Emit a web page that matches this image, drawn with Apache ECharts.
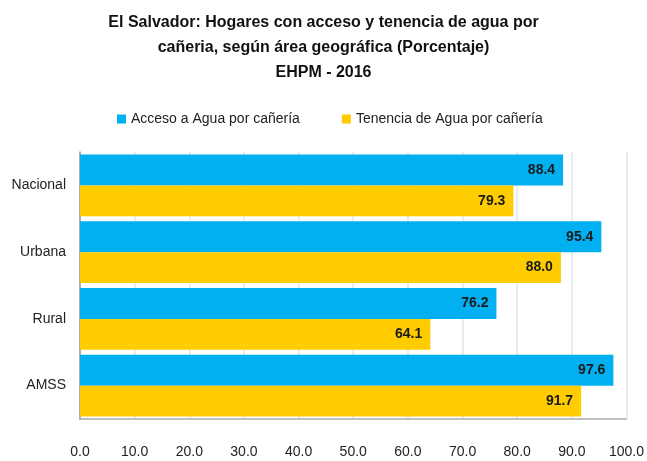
<!DOCTYPE html>
<html>
<head>
<meta charset="utf-8">
<script src="https://cdn.jsdelivr.net/npm/echarts@6/dist/echarts.min.js"></script>
<style>html,body{margin:0;padding:0;background:#fff}#c{width:647px;height:461px}</style>
</head>
<body>
<div id="c"></div>
<script>
const categories = ["Nacional", "Urbana", "Rural", "AMSS"];
const acceso = [88.4, 95.4, 76.2, 97.6];
const tenencia = [79.3, 88.0, 64.1, 91.7];
const seriesNames = ["Acceso a Agua por cañería", "Tenencia de Agua por cañería"];
const titleText = "El Salvador: Hogares con acceso y tenencia de agua por\ncañeria, según área geográfica (Porcentaje)\nEHPM - 2016";

const FONT = "'Liberation Sans Narrow', 'Arial Narrow', 'Liberation Sans', Arial, sans-serif";
const chart = echarts.init(document.getElementById('c'), null, {renderer: 'canvas'});
const labelOpt = {
  show: true, position: 'insideRight', color: '#1a1a1a', fontFamily: FONT,
  fontSize: 14, fontWeight: 'bold', distance: 8,
  formatter: p => p.value.toFixed(1)
};
chart.setOption({
  animation: false,
  backgroundColor: '#fff',
  title: {
    text: titleText, left: 'center', top: 5,
    textStyle: {fontFamily: FONT, fontSize: 16, fontWeight: 'bold', color: '#111', lineHeight: 25}
  },
  legend: {
    top: 107, left: 112, itemGap: 42, itemWidth: 9, itemHeight: 9, icon: 'rect',
    textStyle: {fontFamily: FONT, fontSize: 14, color: '#222'},
    data: seriesNames
  },
  grid: {left: 80, right: 19, top: 152, bottom: 42, containLabel: false},
  xAxis: {
    type: 'value', min: 0, max: 100, interval: 10,
    axisLine: {show: true, lineStyle: {color: '#aaa', width: 1.5}},
    axisTick: {show: false},
    axisLabel: {margin: 26, fontFamily: FONT, fontSize: 14, color: '#222', formatter: v => v.toFixed(1)},
    splitLine: {show: true, lineStyle: {color: '#e4e4e4', width: 1.5}}
  },
  yAxis: {
    type: 'category', data: categories, inverse: true,
    axisLine: {show: true, lineStyle: {color: '#999', width: 1.5}},
    axisTick: {show: false},
    axisLabel: {margin: 14, fontFamily: FONT, fontSize: 14, color: '#222'}
  },
  series: [
    {name: seriesNames[0], type: 'bar', data: acceso, barGap: '0%', barCategoryGap: '7.5%',
     itemStyle: {color: '#00B0F0'}, label: labelOpt},
    {name: seriesNames[1], type: 'bar', data: tenencia,
     itemStyle: {color: '#FFCC00'}, label: labelOpt}
  ]
});
</script>
</body>
</html>
